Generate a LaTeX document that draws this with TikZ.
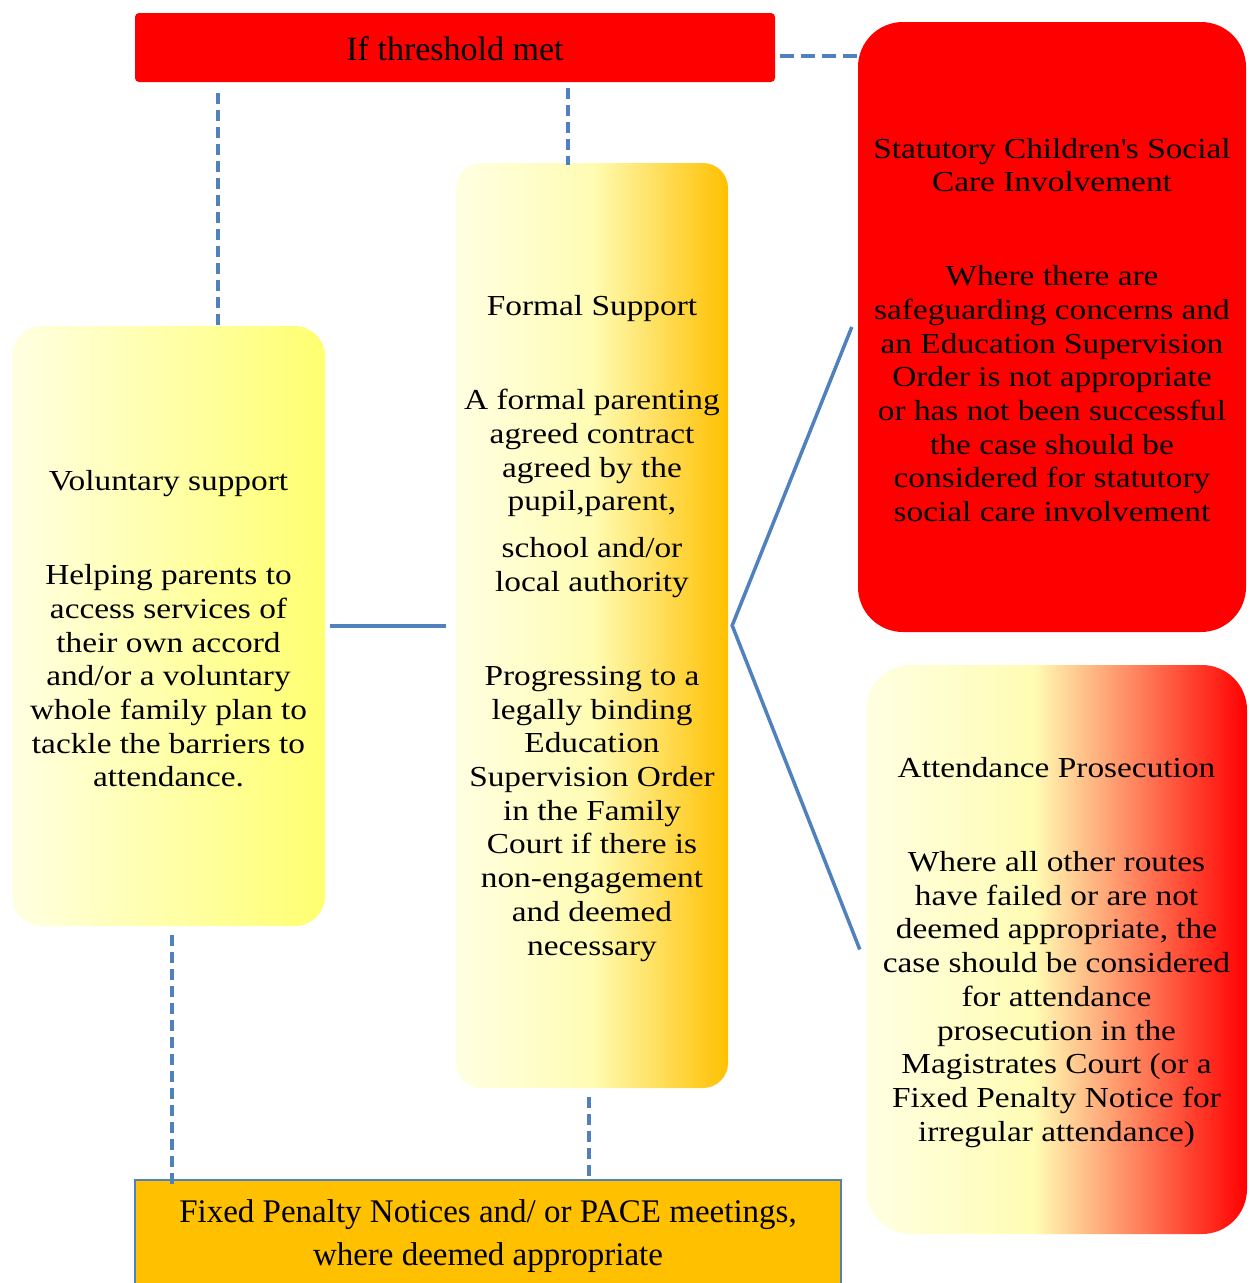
\documentclass[tikz,border=0pt]{standalone}
\usepackage{fontspec}
\setmainfont{Liberation Serif}
\newfontfamily\widefont{Liberation Serif}[FakeStretch=1.15]
\newcommand{\tpgap}{\rule{0pt}{26pt}}
\definecolor{lnblue}{HTML}{4F81BD}
\definecolor{paleA}{HTML}{FFFFE2}
\definecolor{yelA}{HTML}{FFFF70}
\definecolor{yelB}{HTML}{FFFCB4}
\definecolor{orangeA}{HTML}{FFC000}
\definecolor{redA}{HTML}{FF0000}
\pgfdeclarehorizontalshading{volshade}{100bp}{color(0bp)=(paleA); color(25bp)=(paleA); color(75bp)=(yelA); color(100bp)=(yelA)}
\pgfdeclarehorizontalshading{formshade}{100bp}{color(0bp)=(paleA); color(25bp)=(paleA); color(50bp)=(yelB); color(75bp)=(orangeA); color(100bp)=(orangeA)}
\pgfdeclarehorizontalshading{attshade}{100bp}{color(0bp)=(paleA); color(25bp)=(paleA); color(47bp)=(yelB); color(75bp)=(redA); color(100bp)=(redA)}
\begin{document}
\begin{tikzpicture}[x=1pt,y=-1pt,
  box/.style={inner sep=0pt, align=center, font=\widefont\fontsize{29}{33.7}\selectfont},
  dconn/.style={draw=lnblue, line width=3.7pt, dash pattern=on 11pt off 6pt},
  sconn/.style={draw=lnblue, line width=3.5pt}]
\clip (0,0) rectangle (1250,1283);
\fill[white] (0,0) rectangle (1250,1283);

\node[box, minimum width=640pt, minimum height=69pt, fill=redA, rounded corners=4pt,
  font=\fontsize{34}{40}\selectfont] (top) at (455,47.5) {\rule{0pt}{26pt}If threshold met};

\node[box, minimum width=313pt, minimum height=600pt, rounded corners=30pt, shading=volshade] (vol) at (168.5,626)
 {\tpgap Voluntary support\\[60.3pt]
  Helping parents to\\ access services of\\ their own accord\\ and/or a voluntary\\ whole family plan to\\ tackle the barriers to\\ attendance.};

\node[box, minimum width=272pt, minimum height=925pt, rounded corners=25pt, shading=formshade] (formal) at (592,625.5)
 {\tpgap Formal Support\\[60.3pt]
  A formal parenting\\ agreed contract\\ agreed by the\\ pupil,parent,\\[13.3pt]
  school and/or\\ local authority\\[60.3pt]
  Progressing to a\\ legally binding\\ Education\\ Supervision Order\\ in the Family\\ Court if there is\\ non-engagement\\ and deemed\\ necessary};

\node[box, minimum width=388pt, minimum height=610pt, rounded corners=45pt, fill=redA] (scc) at (1052,327)
 {\tpgap Statutory Children\textquotesingle s Social\\ Care Involvement\\[60.3pt]
  Where there are\\ safeguarding concerns and\\ an Education Supervision\\ Order is not appropriate\\ or has not been successful\\ the case should be\\ considered for statutory\\ social care involvement};

\node[box, minimum width=381pt, minimum height=569pt, rounded corners=45pt, shading=attshade] (att) at (1056.5,949.5)
 {\tpgap Attendance Prosecution\\[60.3pt]
  Where all other routes\\ have failed or are not\\ deemed appropriate, the\\ case should be considered\\ for attendance\\ prosecution in the\\ Magistrates Court (or a\\ Fixed Penalty Notice for\\ irregular attendance)};

\node[draw=lnblue, line width=1.5pt, fill=orangeA, minimum width=706pt, minimum height=140pt, inner sep=0pt] (fpn) at (488,1250) {};
\node[inner sep=0pt, align=center, font=\fontsize{33}{43}\selectfont] (fpntext) at (488,1236)
 {Fixed Penalty Notices and/ or PACE meetings,\\ where deemed appropriate};

% connectors
\draw[dconn] ([xshift=49.5pt,yshift=-11pt]top.south -| vol.north) -- ([xshift=49.5pt,yshift=-4pt]vol.north);
\draw[dconn] ([xshift=-24pt,yshift=-6pt]top.south -| formal.north) -- ([xshift=-24pt,yshift=-2pt]formal.north);
\draw[dconn, dash pattern=on 14pt off 7pt] ([xshift=5pt,yshift=-8.5pt]top.east) -- ([yshift=-8.5pt]top.east -| scc.west);
\draw[sconn] ([xshift=5pt]vol.east) -- ([xshift=-10pt]vol.east -| formal.west);
\draw[sconn] ([xshift=-6pt]scc.west) -- ([xshift=4pt]formal.east) -- ([xshift=-6pt]att.west);
\draw[dconn] ([xshift=3.5pt,yshift=-9pt]vol.south) -- ([xshift=3.5pt,yshift=-5pt]vol.south |- fpn.north);
\draw[dconn] ([xshift=-3pt,yshift=-9pt]formal.south) -- ([xshift=-3pt]formal.south |- fpn.north);
\end{tikzpicture}
\end{document}
